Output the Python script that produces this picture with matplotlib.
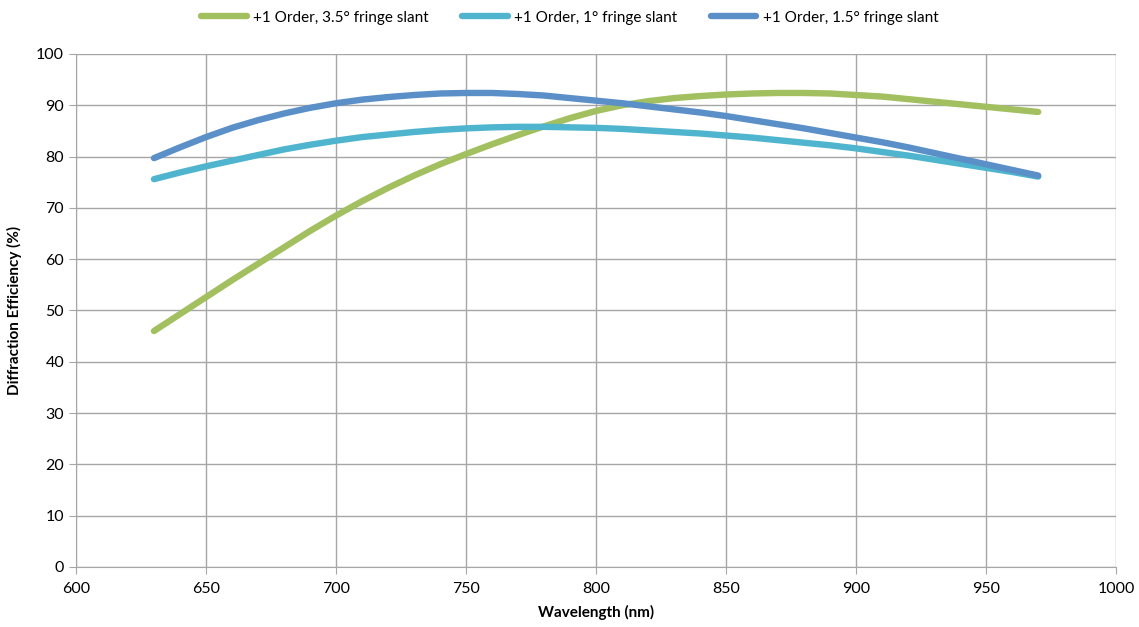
import matplotlib.pyplot as plt

# Wavelength sampling (nm)
wavelength = list(range(630, 971, 10))

# Diffraction efficiency (%) per fringe slant
eff_35 = [46.0, 49.3, 52.6, 55.9, 59.1, 62.3, 65.5, 68.5, 71.3, 73.9,
          76.3, 78.5, 80.5, 82.4, 84.2, 85.9, 87.5, 88.9, 90.0, 90.8,
          91.4, 91.8, 92.1, 92.3, 92.4, 92.4, 92.3, 92.0, 91.7, 91.2,
          90.7, 90.2, 89.7, 89.2, 88.7]
eff_10 = [75.6, 76.9, 78.1, 79.2, 80.3, 81.4, 82.3, 83.1, 83.8, 84.3,
          84.8, 85.2, 85.5, 85.7, 85.8, 85.8, 85.7, 85.6, 85.4, 85.1,
          84.8, 84.5, 84.1, 83.7, 83.2, 82.7, 82.2, 81.6, 80.9, 80.2,
          79.4, 78.6, 77.8, 77.0, 76.1]
eff_15 = [79.7, 81.8, 83.8, 85.6, 87.1, 88.4, 89.5, 90.4, 91.1, 91.6,
          92.0, 92.3, 92.4, 92.4, 92.2, 91.9, 91.4, 90.9, 90.4, 89.8,
          89.2, 88.6, 87.9, 87.1, 86.3, 85.5, 84.6, 83.7, 82.8, 81.8,
          80.7, 79.6, 78.5, 77.4, 76.3]

labels = ["+1 Order, 3.5° fringe slant", "+1 Order, 1° fringe slant", "+1 Order, 1.5° fringe slant"]
colors = ["#A2C05F", "#4FB5CF", "#5A8FC8"]

plt.rcParams["font.family"] = ["Lato", "DejaVu Sans"]

fig = plt.figure(figsize=(11.39, 6.27), dpi=100)
ax = fig.add_axes([0.0667, 0.0957, 0.9133, 0.8182])

for y, lab, c in zip([eff_35, eff_10, eff_15], labels, colors):
    ax.plot(wavelength, y, color=c, lw=4.6, solid_capstyle="round", solid_joinstyle="round", label=lab)

ax.set_xlim(600, 1000)
ax.set_ylim(0, 100)
ax.set_xticks(range(600, 1001, 50))
ax.set_yticks(range(0, 101, 10))
ax.grid(True, color="#A6A6A6", lw=1)
ax.set_axisbelow(True)
for s in ["top", "right"]:
    ax.spines[s].set_visible(False)
for s in ["left", "bottom"]:
    ax.spines[s].set_color("#A6A6A6")
ax.tick_params(colors="#A6A6A6", labelcolor="black", labelsize=11.5, length=5)
ax.tick_params(axis="x", pad=6)

ax.set_xlabel("Wavelength (nm)", fontsize=11, fontweight="bold", labelpad=6)
ax.set_ylabel("Diffraction Efficiency (%)", fontsize=11, fontweight="bold", labelpad=10)

fig.legend(loc="upper center", bbox_to_anchor=(0.5, 1.005), ncol=3, frameon=False,
           fontsize=11, handlelength=3, columnspacing=2.2, handletextpad=0.4)

fig.savefig("out.png", dpi=100)
